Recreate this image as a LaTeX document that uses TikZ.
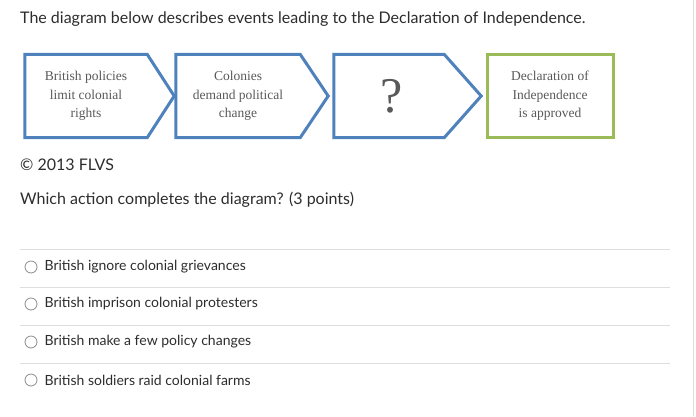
\documentclass[tikz,border=0pt]{standalone}
\usepackage{fontspec}
\setmainfont{Lato}
\newfontfamily\boxfont{Liberation Serif}
\usetikzlibrary{positioning}
\definecolor{evblue}{RGB}{79,129,189}
\definecolor{evgreen}{RGB}{155,187,89}
\definecolor{rulegray}{RGB}{222,222,222}
\definecolor{txtgray}{RGB}{45,45,45}

\begin{document}
\begin{tikzpicture}[x=1pt,y=-1pt,
  evt/.style={minimum height=83pt,inner sep=0pt,align=center,
    font=\boxfont\fontsize{13.5}{18.5}\selectfont,text=black!65},
  evtline/.style={draw=evblue,line width=3pt,line join=miter},
  radio/.style={circle,draw=black!45,line width=0.8pt,minimum size=12pt,inner sep=0pt},
  opt/.style={font=\fontsize{14}{16}\selectfont,text=txtgray,inner sep=0pt},
  txt/.style={anchor=west,font=\fontsize{16}{18}\selectfont,text=txtgray,inner sep=0pt}]

  \useasboundingbox[fill=white] (0,0) rectangle (696,416);
  \draw[rulegray,line width=1pt] (693,0) -- (693,416);

  \node[txt] (title) at (20,19) {The diagram below describes events leading to the Declaration of Independence.};

  % event chain
  \node[evt,minimum width=122pt] (1) at (86,96) {British policies\\limit colonial\\rights};
  \node[evt,minimum width=124pt] (2) at (238,96) {Colonies\\demand political\\change};
  \node[evt,minimum width=110pt] (3) at (392,96) {\raisebox{-4pt}{\fontsize{50}{50}\selectfont ?}};
  \node[evt,minimum width=126pt,draw=evgreen,line width=3pt] (4) at (550,96) {Declaration of\\Independence\\is approved};

  \draw[evtline] (1.north west) -- (1.north east) -- ([xshift=27pt]1.east) -- (1.south east) -- (1.south west) -- cycle;
  \draw[evtline] (2.north west) -- (2.north east) -- ([xshift=28pt]2.east) -- (2.south east) -- (2.south west) -- cycle;
  \draw[evtline] ([xshift=-3pt]3.north west) -- ([xshift=-3pt]3.north east) -- ([xshift=34pt]3.east) -- ([xshift=-3pt]3.south east) -- ([xshift=-3pt]3.south west) -- cycle;

  \node[txt] (flvs) at (20,165) {\textcopyright\ 2013 FLVS};
  \node[txt] (question) at (20,200) {Which action completes the diagram? (3 points)};

  % answer choices
  \foreach \y in {249,287,325,363}
    \draw[rulegray,line width=1pt] (20,\y) -- (670,\y);

  \node[radio] (r1) at (31,267) {};
  \node[radio] (r2) at (31,304) {};
  \node[radio] (r3) at (31,342) {};
  \node[radio] (r4) at (31,380) {};
  \node[opt,right=7pt of r1] (a1) {British ignore colonial grievances};
  \node[opt,right=7pt of r2] (a2) {British imprison colonial protesters};
  \node[opt,right=7pt of r3] (a3) {British make a few policy changes};
  \node[opt,right=7pt of r4] (a4) {British soldiers raid colonial farms};

\end{tikzpicture}
\end{document}
